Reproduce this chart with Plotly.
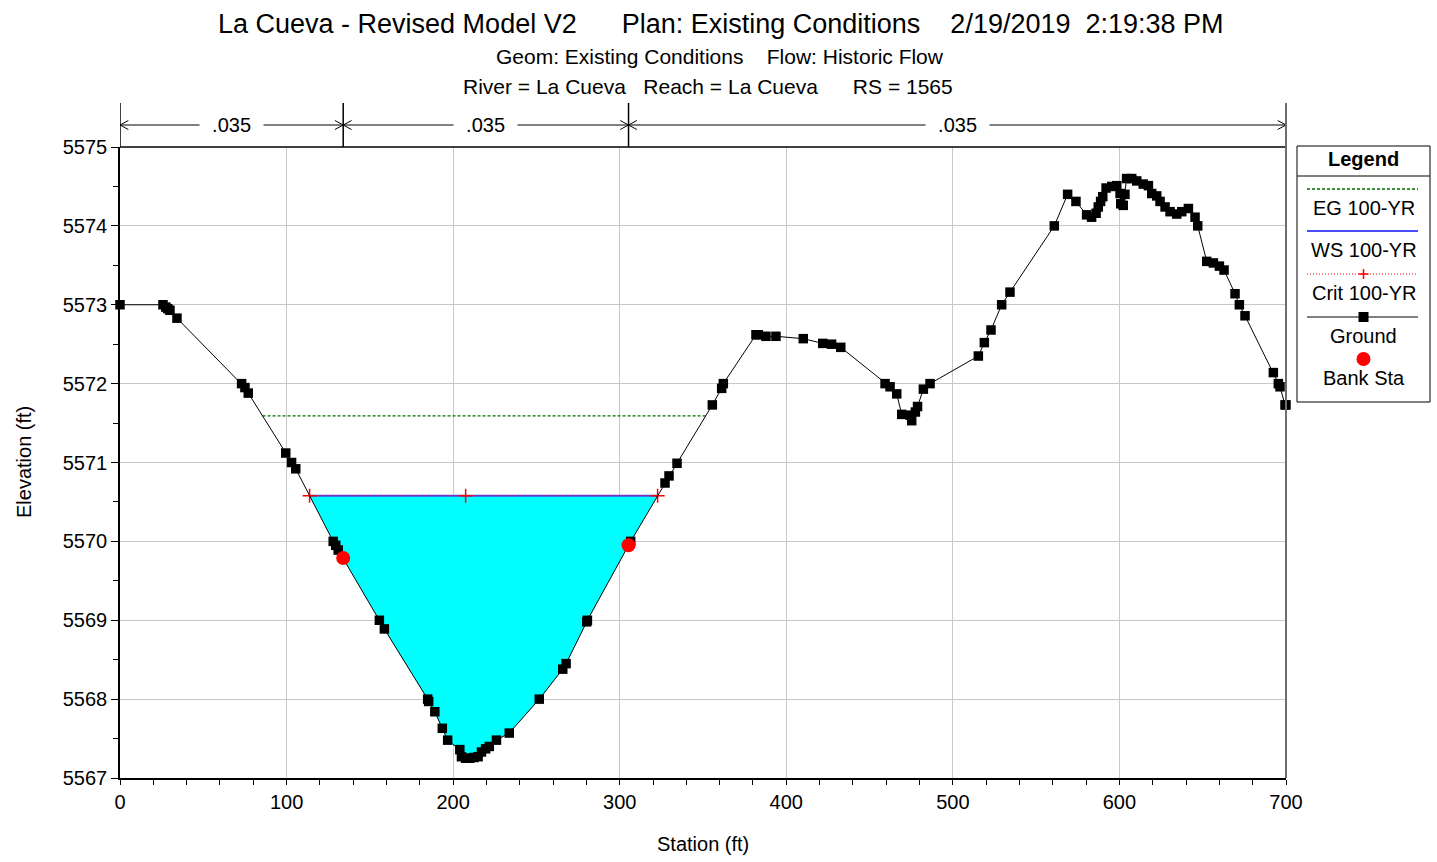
import plotly.graph_objects as go
import numpy as np

# ---------------- data ----------------
ground_sta = [0, 25.8, 27.5, 28.7, 30, 34.2, 73, 75, 77, 99.5, 103, 105.5, 128, 129.5, 131,
              155.7, 158.7, 184.7, 185.3, 189, 193.5, 196.7, 204, 205, 207.5, 210, 212.5, 215,
              217, 219.5, 221.7, 226, 233.7, 251.7, 265.8, 267.8, 280.2, 280.6, 306.6, 327.2,
              329.6, 334.4, 355.6, 361.2, 362.2, 381.8, 383.2, 387.8, 393.8, 410.2, 421.9, 427.2,
              432.7, 459.3, 462.3, 466.3, 469.3, 474.3, 475.3, 477.5, 478.8, 482.3, 486.3, 515.3,
              518.9, 522.9, 529.3, 534.3, 560.9, 568.9, 573.9, 580.3, 583.3, 586, 587.3, 588.7,
              590, 592, 595.4, 598.4, 600.4, 600.8, 602.3, 603.3, 604.3, 607.4, 610.4, 614.3,
              617.4, 619.4, 622.4, 624.4, 627.4, 630.4, 634.4, 637.4, 641.4, 645.4, 647, 652.4,
              656.4, 660, 662.8, 669.4, 672, 675.4, 692.4, 695.4, 696.4, 699.4, 700]
ground_elev = [5573.0, 5573.0, 5572.97, 5572.95, 5572.93, 5572.83, 5572.0, 5571.95, 5571.88,
               5571.12, 5571.0, 5570.92, 5570.0, 5569.95, 5569.89, 5569.0, 5568.89, 5568.0,
               5567.97, 5567.84, 5567.63, 5567.48, 5567.36, 5567.27, 5567.25, 5567.25, 5567.26,
               5567.27, 5567.33, 5567.37, 5567.40, 5567.48, 5567.57, 5568.0, 5568.38, 5568.45,
               5568.98, 5569.0, 5570.0, 5570.74, 5570.83, 5570.99, 5571.73, 5571.94, 5572.0,
               5572.62, 5572.62, 5572.60, 5572.60, 5572.57, 5572.51, 5572.50, 5572.46, 5572.0,
               5571.96, 5571.87, 5571.61, 5571.60, 5571.53, 5571.64, 5571.71, 5571.93, 5572.0,
               5572.35, 5572.52, 5572.68, 5573.0, 5573.16, 5574.0, 5574.40, 5574.31, 5574.14,
               5574.11, 5574.16, 5574.24, 5574.31, 5574.37, 5574.48, 5574.50, 5574.51, 5574.41,
               5574.28, 5574.26, 5574.40, 5574.60, 5574.60, 5574.57, 5574.53, 5574.51, 5574.41,
               5574.38, 5574.31, 5574.24, 5574.18, 5574.15, 5574.18, 5574.22, 5574.11, 5574.0,
               5573.55, 5573.53, 5573.49, 5573.44, 5573.14, 5573.0, 5572.86, 5572.14, 5572.0,
               5571.96, 5571.73, 5571.73]

bank_sta = [134.0, 305.3]
bank_elev = [5569.79, 5569.95]

eg_elev = 5571.59      # EG 100-YR
ws_elev = 5570.58      # WS 100-YR
crit_elev = 5570.58    # Crit 100-YR

n_breaks = [0, 134.0, 305.3, 700]
n_values = [0.035, 0.035, 0.035]

title_lines = ["La Cueva - Revised Model V2      Plan: Existing Conditions    2/19/2019  2:19:38 PM",
               "Geom: Existing Conditions    Flow: Historic Flow",
               "River = La Cueva   Reach = La Cueva      RS = 1565"]
legend_names = ["EG 100-YR", "WS 100-YR", "Crit 100-YR", "Ground", "Bank Sta"]

FONT = "Liberation Sans, Arial, sans-serif"

# ---------------- helpers ----------------
gs = np.array(ground_sta, dtype=float)
ge = np.array(ground_elev, dtype=float)


def wet_intervals(level):
    """Intervals where the ground lies below a level (linear intersections)."""
    out = []
    start = None
    for i in range(len(gs) - 1):
        a, b = ge[i] - level, ge[i + 1] - level
        if a >= 0 and b < 0:
            start = gs[i] + (gs[i + 1] - gs[i]) * a / (a - b)
        elif a < 0 and b >= 0 and start is not None:
            end = gs[i] + (gs[i + 1] - gs[i]) * a / (a - b)
            out.append((start, end))
            start = None
    return out


def nbsp(s):
    return s.replace(" ", "\u00a0")


L, R, T, B = 120, 1286, 147, 778
W, H = 1437, 862


def px(x):
    return (x - L) / (R - L)


def py(y):
    return (B - y) / (B - T)


EG_COLOR = "#007000"
WS_COLOR = "#4b4bff"
CRIT_COLOR = "#ff0000"
EG_DASH = "3px,2px"

fig = go.Figure()

# water fill (WS)
ws_int = wet_intervals(ws_elev)
for (a, b) in ws_int:
    mask = (gs > a) & (gs < b)
    fx = [a] + list(gs[mask]) + [b]
    fy = [ws_elev] + list(ge[mask]) + [ws_elev]
    fig.add_trace(go.Scatter(x=fx, y=fy, fill="toself", fillcolor="#00ffff",
                             line=dict(width=0), mode="lines", hoverinfo="skip",
                             showlegend=False))

# EG
eg_x, eg_y = [], []
for (a, b) in wet_intervals(eg_elev):
    eg_x += [a, b, None]
    eg_y += [eg_elev, eg_elev, None]
fig.add_trace(go.Scatter(x=eg_x, y=eg_y, mode="lines",
                         line=dict(color=EG_COLOR, width=1.3, dash=EG_DASH),
                         name=legend_names[0], showlegend=False))

# WS
ws_x, ws_y = [], []
for (a, b) in ws_int:
    ws_x += [a, b, None]
    ws_y += [ws_elev, ws_elev, None]
fig.add_trace(go.Scatter(x=ws_x, y=ws_y, mode="lines",
                         line=dict(color=WS_COLOR, width=2),
                         name=legend_names[1], showlegend=False))

# Crit
crit_int = wet_intervals(crit_elev)
thalweg = float(gs[np.argmin(ge)])
cx = [crit_int[0][0], thalweg, crit_int[-1][1]]
fig.add_trace(go.Scatter(x=cx, y=[crit_elev] * 3, mode="lines",
                         line=dict(color=CRIT_COLOR, width=1, dash="1px,2px"),
                         name=legend_names[2], showlegend=False))
fig.add_trace(go.Scatter(x=cx, y=[crit_elev] * 3, mode="markers",
                         marker=dict(symbol="cross-thin", size=10, color=CRIT_COLOR,
                                     line=dict(color=CRIT_COLOR, width=1.5)),
                         showlegend=False, cliponaxis=False))

# Ground
fig.add_trace(go.Scatter(x=ground_sta, y=ground_elev, mode="lines+markers",
                         line=dict(color="black", width=1),
                         marker=dict(symbol="square", size=9.5, color="black"),
                         name=legend_names[3], showlegend=False, cliponaxis=False))

# Bank stations
fig.add_trace(go.Scatter(x=bank_sta, y=bank_elev, mode="markers",
                         marker=dict(symbol="circle", size=14, color=CRIT_COLOR),
                         name=legend_names[4], showlegend=False))

shapes = []
annotations = []

# --- roughness header ---
y_arrow = py(125)
y_top = py(103)
for bpt in n_breaks:
    shapes.append(dict(type="line", xref="x", yref="paper", x0=bpt, x1=bpt, y0=1, y1=y_top,
                       line=dict(color="black", width=1.5)))
shapes.append(dict(type="line", xref="paper", yref="paper", x0=0, x1=1, y0=1, y1=1,
                   line=dict(color="black", width=1.5)))
chev_dx = 5.0
chev_dy = 4.5 / (B - T)
for i, n in enumerate(n_values):
    a, b = n_breaks[i], n_breaks[i + 1]
    shapes.append(dict(type="line", xref="x", yref="paper", x0=a, x1=b, y0=y_arrow, y1=y_arrow,
                       line=dict(color="black", width=1)))
    shapes.append(dict(type="path", xref="x", yref="paper",
                       path=f"M {a + chev_dx},{y_arrow + chev_dy} L {a},{y_arrow} L {a + chev_dx},{y_arrow - chev_dy}",
                       line=dict(color="black", width=1)))
    shapes.append(dict(type="path", xref="x", yref="paper",
                       path=f"M {b - chev_dx},{y_arrow + chev_dy} L {b},{y_arrow} L {b - chev_dx},{y_arrow - chev_dy}",
                       line=dict(color="black", width=1)))
    label = ("%.3f" % n).lstrip("0")
    annotations.append(dict(x=(a + b) / 2, y=y_arrow, xref="x", yref="paper",
                            text=nbsp("  " + label + "  "), showarrow=False, bgcolor="white",
                            font=dict(size=20, color="black", family=FONT),
                            xanchor="center", yanchor="middle"))

# right frame line (gray)
shapes.append(dict(type="line", xref="paper", yref="paper", x0=1, x1=1, y0=0, y1=y_top,
                   line=dict(color="#6e6e6e", width=2)))

# --- titles ---
title_pos = [(721, 24, 27), (720, 56, 21), (708, 86, 21)]
for txt, (tx, ty, fs) in zip(title_lines, title_pos):
    annotations.append(dict(x=px(tx), y=py(ty), xref="paper", yref="paper",
                            text=nbsp(txt), showarrow=False,
                            font=dict(size=fs, color="black", family=FONT),
                            xanchor="center", yanchor="middle"))

# axis titles
annotations.append(dict(x=px(703), y=py(844), xref="paper", yref="paper", text="Station (ft)",
                        showarrow=False, font=dict(size=20, color="black", family=FONT),
                        xanchor="center", yanchor="middle"))
annotations.append(dict(x=px(24), y=py(462), xref="paper", yref="paper", text="Elevation (ft)",
                        showarrow=False, textangle=-90,
                        font=dict(size=20, color="black", family=FONT),
                        xanchor="center", yanchor="middle"))

# --- custom legend ---
lx0, lx1, ly0, ly1 = 1297, 1430, 146, 402
cxl = (lx0 + lx1) / 2
shapes.append(dict(type="rect", xref="paper", yref="paper", x0=px(lx0), x1=px(lx1),
                   y0=py(ly1), y1=py(ly0), line=dict(color="black", width=1), fillcolor="white"))
shapes.append(dict(type="line", xref="paper", yref="paper", x0=px(lx0), x1=px(lx1),
                   y0=py(176), y1=py(176), line=dict(color="black", width=1)))
annotations.append(dict(x=px(cxl), y=py(159), xref="paper", yref="paper", text="<b>Legend</b>",
                        showarrow=False, font=dict(size=20, color="black", family=FONT),
                        xanchor="center", yanchor="middle"))
sx0, sx1 = 1307, 1418
# EG sample
shapes.append(dict(type="line", xref="paper", yref="paper", x0=px(sx0), x1=px(sx1),
                   y0=py(189), y1=py(189), line=dict(color=EG_COLOR, width=1.3, dash=EG_DASH)))
# WS sample
shapes.append(dict(type="line", xref="paper", yref="paper", x0=px(sx0), x1=px(sx1),
                   y0=py(231), y1=py(231), line=dict(color=WS_COLOR, width=2)))
# Crit sample
shapes.append(dict(type="line", xref="paper", yref="paper", x0=px(sx0), x1=px(sx1),
                   y0=py(274), y1=py(274), line=dict(color=CRIT_COLOR, width=1, dash="1px,2px")))
shapes.append(dict(type="line", xref="paper", yref="paper", x0=px(cxl - 5), x1=px(cxl + 5),
                   y0=py(274), y1=py(274), line=dict(color=CRIT_COLOR, width=1.5)))
shapes.append(dict(type="line", xref="paper", yref="paper", x0=px(cxl), x1=px(cxl),
                   y0=py(269), y1=py(279), line=dict(color=CRIT_COLOR, width=1.5)))
# Ground sample
shapes.append(dict(type="line", xref="paper", yref="paper", x0=px(sx0), x1=px(sx1),
                   y0=py(317), y1=py(317), line=dict(color="black", width=1)))
shapes.append(dict(type="rect", xref="paper", yref="paper", x0=px(cxl - 5), x1=px(cxl + 5),
                   y0=py(322), y1=py(312), line=dict(color="black", width=0), fillcolor="black"))
# Bank sample
shapes.append(dict(type="circle", xref="paper", yref="paper", x0=px(cxl - 7), x1=px(cxl + 7),
                   y0=py(366), y1=py(352), line=dict(color=CRIT_COLOR, width=0),
                   fillcolor=CRIT_COLOR))
for name, yy in zip(legend_names, [208, 250, 293, 336, 378]):
    annotations.append(dict(x=px(cxl), y=py(yy), xref="paper", yref="paper", text=nbsp(name),
                            showarrow=False, font=dict(size=20, color="black", family=FONT),
                            xanchor="center", yanchor="middle"))

fig.update_layout(
    width=W, height=H,
    margin=dict(l=L, r=W - R, t=T, b=H - B, pad=0),
    paper_bgcolor="white", plot_bgcolor="white",
    showlegend=False,
    font=dict(family=FONT, color="black", size=20),
    shapes=shapes, annotations=annotations,
    xaxis=dict(range=[0, 700], dtick=100, tick0=0, showgrid=True, gridcolor="#c8c8c8",
               gridwidth=1, zeroline=False, showline=True, linecolor="black", linewidth=1.5,
               ticks="outside", ticklen=5, tickcolor="black", tickwidth=1,
               tickfont=dict(size=20, family=FONT, color="black"),
               minor=dict(dtick=20, tick0=0, ticks="outside", ticklen=5, tickcolor="black",
                          showgrid=False)),
    yaxis=dict(range=[5567, 5575], dtick=1, tick0=5567, showgrid=True, gridcolor="#c8c8c8",
               gridwidth=1, zeroline=False, showline=True, linecolor="black", linewidth=1.5,
               ticks="outside", ticklen=7, tickcolor="black", tickwidth=1,
               tickfont=dict(size=20, family=FONT, color="black"), tickformat="d",
               minor=dict(dtick=0.5, tick0=5567, ticks="outside", ticklen=5, tickcolor="black",
                          showgrid=False)),
)

fig.write_html("out.html")
